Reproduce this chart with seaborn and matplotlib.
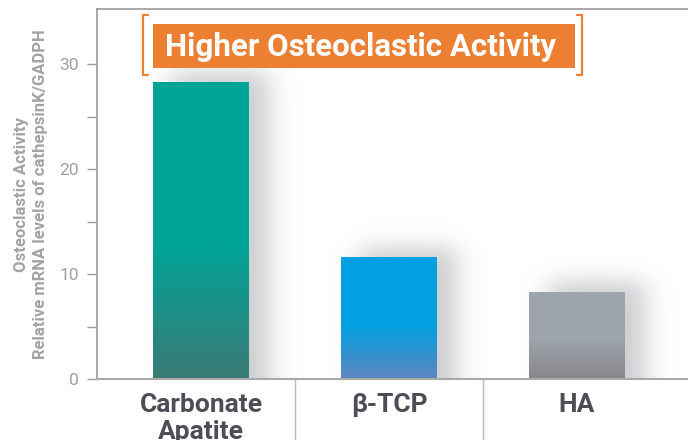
import numpy as np
import matplotlib
matplotlib.use("Agg")
import matplotlib.pyplot as plt
import seaborn as sns
from matplotlib.colors import LinearSegmentedColormap, to_rgb
from matplotlib.patches import Rectangle

sns.set_style("white")
plt.rcParams['font.family'] = ['Roboto', 'DejaVu Sans']

# data
categories = ["Carbonate\nApatite", "β-TCP", "HA"]
values = [28.3, 11.6, 8.3]
top_colors = ["#00A398", "#00A0E2", "#9EA4AC"]
bottom_colors = ["#3B7B76", "#5E86C0", "#87878A"]
y_ticks = [0, 10, 20, 30]
title_text = "Higher Osteoclastic Activity"

fig = plt.figure(figsize=(6.88, 4.40), dpi=100)
ax = fig.add_axes([97 / 688, 1 - 379 / 440, 1 - 97 / 688, 370 / 440])

sns.barplot(x=categories, y=values, hue=categories, palette=top_colors,
            width=0.51, legend=False, ax=ax, zorder=3, saturation=1)


def soft(t):
    return 0.5 * (1 + np.tanh(t))


# soft drop shadows and vertical gradients
for bar, c_top, c_bot in zip(ax.patches, top_colors, bottom_colors):
    x0, w, h = bar.get_x(), bar.get_width(), bar.get_height()
    bar.set_edgecolor("none")
    # shadow
    xs = np.linspace(x0 - 0.05, x0 + w + 0.5, 220)
    ys = np.linspace(0, h + 4, 220)
    X, Y = np.meshgrid(xs, ys)
    sx, sy = 0.085, 1.3
    offx = 0.1
    a = (soft((X - (x0 + offx)) / sx) * soft((x0 + w + offx - X) / sx)
         * soft((h + 0.9 - Y) / sy))
    rgba = np.zeros(X.shape + (4,))
    rgba[..., :3] = (0.42, 0.44, 0.47)
    rgba[..., 3] = 0.36 * a
    ax.imshow(rgba, extent=(xs[0], xs[-1], ys[0], ys[-1]), origin="lower",
              aspect="auto", zorder=1, interpolation="bilinear")
    # gradient
    cmap = LinearSegmentedColormap.from_list(
        "g", [(0, c_bot), (0.45, to_rgb(c_top)), (1, c_top)])
    grad = np.linspace(0, 1, 256).reshape(-1, 1)
    im = ax.imshow(grad, extent=(x0, x0 + w, 0, h), origin="lower",
                   aspect="auto", cmap=cmap, zorder=4)
    im.set_clip_path(bar)

ax.set_xlim(-0.553, 2.59)
ax.set_ylim(0, 35.25)

# axes styling
for side in ["left", "top"]:
    ax.spines[side].set_color("#9B9B9B")
    ax.spines[side].set_linewidth(1.2)
ax.spines["bottom"].set_color("#AAAAAA")
ax.spines["bottom"].set_linewidth(1.5)
ax.spines["right"].set_visible(False)
for s in ax.spines.values():
    s.set_zorder(6)

ax.set_yticks(y_ticks)
ax.set_yticks([5, 15, 25], minor=True)
ax.tick_params(axis="y", which="both", direction="out", length=7.2,
               width=1, color="#9B9B9B", labelcolor="#A0A0A0",
               labelsize=12.5, pad=6, left=True)
ax.tick_params(axis="x", length=0, pad=10, labelsize=19, labelcolor="#4B4E55")
for lab in ax.get_xticklabels():
    lab.set_fontweight("bold")
    lab.set_linespacing(1.15)
    lab.set_verticalalignment("top")

ax.set_xlabel("")
ax.set_ylabel("Osteoclastic Activity\nRelative mRNA levels of cathepsinK/GADPH",
              fontsize=12, fontweight="bold", color="#A3A3A3", labelpad=8,
              linespacing=1.3)

# separators between categories below the axis
for xv in [0.5, 1.5]:
    ax.plot([xv, xv], [0, -0.17], transform=ax.get_xaxis_transform(),
            color="#BBBBBB", lw=1, clip_on=False)

# title box with brackets
bx0, bx1 = (153 - 97) / 591, (575 - 97) / 591
by0, by1 = (379 - 68) / 370, (379 - 24) / 370
ax.add_patch(Rectangle((bx0, by0), bx1 - bx0, by1 - by0, transform=ax.transAxes,
                       facecolor="#ED7F33", edgecolor="none", zorder=7))
ax.text((bx0 + bx1) / 2 - 0.005, (by0 + by1) / 2 - 0.002, title_text,
        transform=ax.transAxes, ha="center", va="center", color="white",
        fontsize=22.5, fontweight="bold", zorder=8)
lx, rx = (143 - 97) / 591, (582 - 97) / 591
ty, byb = (379 - 15) / 370, (379 - 75) / 370
arm = 5 / 591
ax.plot([lx + arm, lx, lx, lx + arm], [ty, ty, byb, byb], transform=ax.transAxes,
        color="#ED7F33", lw=1.6, clip_on=False, zorder=8)
ax.plot([rx - arm, rx, rx, rx - arm], [ty, ty, byb, byb], transform=ax.transAxes,
        color="#ED7F33", lw=1.6, clip_on=False, zorder=8)

fig.savefig("out.png", dpi=100)
